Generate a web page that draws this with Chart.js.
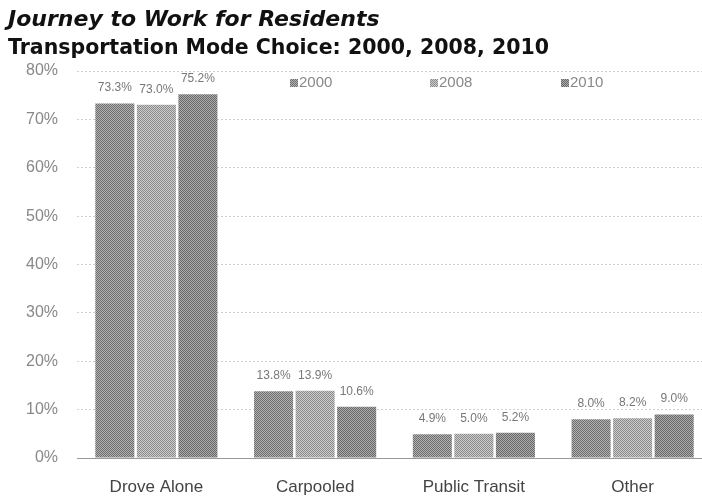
<!DOCTYPE html>
<html><head><meta charset="utf-8">
<script src="https://cdn.jsdelivr.net/npm/chart.js@4/dist/chart.umd.min.js"></script>
<style>html,body{margin:0;padding:0;background:#fff;overflow:hidden;width:702px;height:497px}</style>
</head><body><canvas id="c" width="712" height="497"></canvas>
<script>
const categories = ["Drove Alone", "Carpooled", "Public Transit", "Other"];
const years = ["2000", "2008", "2010"];
const values2000 = [73.3, 13.8, 4.9, 8.0];
const values2008 = [73.0, 13.9, 5.0, 8.2];
const values2010 = [75.2, 10.6, 5.2, 9.0];
const tickValues = [0, 10, 20, 30, 40, 50, 60, 70, 80];
const sans = "'Liberation Sans', Arial, sans-serif";

function checker(dark, light) {
  const p = document.createElement('canvas');
  p.width = 2; p.height = 2;
  const g = p.getContext('2d');
  g.fillStyle = light; g.fillRect(0, 0, 2, 2);
  g.fillStyle = dark; g.fillRect(0, 0, 1, 1); g.fillRect(1, 1, 1, 1);
  return g.createPattern(p, 'repeat');
}
const fills = [checker("#6c6c6c", "#b4b4b4"), checker("#8a8a8a", "#cdcdcd"), checker("#686868", "#acacac")];

const valueLabels = {
  id: 'valueLabels',
  afterDatasetsDraw(chart) {
    const ctx = chart.ctx;
    ctx.save();
    ctx.font = "12px " + sans;
    ctx.fillStyle = "#777";
    ctx.textAlign = "center";
    ctx.textBaseline = "alphabetic";
    chart.data.datasets.forEach((ds, i) => {
      const meta = chart.getDatasetMeta(i);
      meta.data.forEach((bar, j) => {
        ctx.fillText(ds.data[j].toFixed(1) + "%", bar.x, bar.y - 12);
      });
    });
    ctx.restore();
  }
};
const topLegend = {
  id: 'topLegend',
  afterDraw(chart) {
    const ctx = chart.ctx;
    const xs = [290, 430, 561];
    const y = chart.chartArea.top + 12;
    ctx.save();
    ctx.font = "15px " + sans;
    ctx.textBaseline = "middle";
    ctx.textAlign = "left";
    chart.data.datasets.forEach((ds, i) => {
      ctx.fillStyle = ds.backgroundColor;
      ctx.fillRect(xs[i], y - 4, 8, 8);
      ctx.fillStyle = "#888";
      ctx.fillText(ds.label, xs[i] + 9, y);
    });
    ctx.restore();
  }
};

new Chart(document.getElementById('c'), {
  type: 'bar',
  data: {
    labels: categories,
    datasets: [
      { label: years[0], data: values2000, backgroundColor: fills[0] },
      { label: years[1], data: values2008, backgroundColor: fills[1] },
      { label: years[2], data: values2010, backgroundColor: fills[2] }
    ]
  },
  options: {
    responsive: false,
    animation: false,
    devicePixelRatio: 1,
    layout: { padding: { left: 8, right: 0, top: 0, bottom: 0 } },
    datasets: { bar: { categoryPercentage: 0.785, barPercentage: 0.94 } },
    plugins: {
      legend: { display: false },
      tooltip: { enabled: false },
      title: {
        display: true, text: "Journey to Work for Residents", align: 'start',
        color: "#111", font: { family: "'DejaVu Sans', Verdana, sans-serif", size: 22, weight: 'bold', style: 'italic' },
        padding: { top: 7, bottom: 2 }
      },
      subtitle: {
        display: true, text: "Transportation Mode Choice: 2000, 2008, 2010", align: 'start',
        color: "#111", font: { family: "'DejaVu Sans', Verdana, sans-serif", size: 20.5, weight: 'bold' },
        padding: { top: 1, bottom: 10 }
      }
    },
    scales: {
      x: {
        grid: { display: false },
        border: { display: true, color: "#999", dash: [2, 2] },
        ticks: { color: "#444", font: { family: sans, size: 17 }, padding: 11 },
        afterFit(axis) { axis.height = 39; }
      },
      y: {
        min: 0, max: 80,
        afterBuildTicks(axis) { axis.ticks = tickValues.map(v => ({ value: v })); },
        grid: { color: "#d0d0d0", drawTicks: false },
        border: { display: false, dash: [2, 2] },
        ticks: { color: "#888", font: { family: sans, size: 16 }, padding: 19, callback: v => v + "%" },
        afterFit(axis) { axis.width = 69; }
      }
    }
  },
  plugins: [valueLabels, topLegend]
});
</script>
</body></html>
